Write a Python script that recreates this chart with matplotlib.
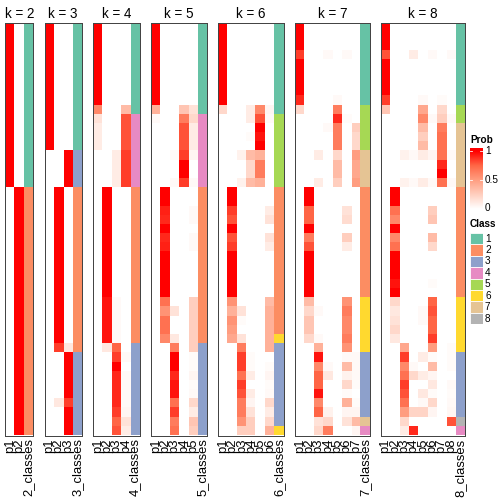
import numpy as np
import matplotlib
matplotlib.use("Agg")
from matplotlib import pyplot as plt
from matplotlib.colors import LinearSegmentedColormap, ListedColormap

plt.rcParams['font.family'] = ['Liberation Sans', 'DejaVu Sans']

# ---- data: membership probabilities per k (45 samples, same order in every panel)
k2_p1 = [1,1,1,1,1,1,1,1,1,1,1,1,1,1,1, 1,1,1,0,0,0,0,0,0,0,0,0,0,0,0, 0,0,0,0,0,0,0,0,0,0,0,0,0,0,0]
k2_p2 = [0,0,0,0,0,0,0,0,0,0,0,0,0,0,0, 0,0,0,1,1,1,1,1,1,1,1,1,1,1,1, 1,1,1,1,1,1,1,1,1,1,1,1,1,1,1]
k2_cls = [1,1,1,1,1,1,1,1,1,1,1,1,1,1,1, 1,1,1,2,2,2,2,2,2,2,2,2,2,2,2, 2,2,2,2,2,2,2,2,2,2,2,2,2,2,2]

k3_p1 = [1,1,1,1,1,1,1,1,1,1,1,1,1,1,0, 0,0,0,0,0,0,0,0,0,0,0,0,0,0,0, 0,0,0,0,0,0,0,0,0,0,0,0,0,0,0]
k3_p2 = [0,0,0,0,0,0,0,0,0,0,0,0,0,0,0, 0,0,0,1,1,1,1,1,1,1,1,1,1,1,1, 1,1,1,1,1,.85,0,0,0,0,0,.12,0,0,0]
k3_p3 = [0,0,0,0,0,0,0,0,0,0,0,0,0,0,1, 1,1,1,0,0,0,0,0,0,0,0,0,0,0,0, 0,0,0,0,0,.12,1,1,1,1,1,.85,1,1,1]
k3_cls = [1,1,1,1,1,1,1,1,1,1,1,1,1,1,3, 3,3,3,2,2,2,2,2,2,2,2,2,2,2,2, 2,2,2,2,2,2,3,3,3,3,3,3,3,3,3]

k4_p1 = [1,1,1,1,1,1,1,1,1,.6,.15,.1,.1,.1,0, 0,0,0,0,0,0,0,0,0,0,0,0,0,0,0, 0,0,0,0,0,0,0,0,0,0,0,0,0,0,0]
k4_p2 = [0,0,0,0,0,0,0,0,0,0,0,0,0,0,0, 0,0,0,1,1,1,1,1,1,1,1,1,1,1,1, .95,.95,.95,.95,.95,.12,0,0,0,0,0,0,0,0,0]
k4_p3 = [0,0,0,0,0,0,0,0,0,0,0,0,0,0,.1, .1,.1,.1,0,0,0,0,0,0,0,0,0,0,0,0, .03,.03,.03,.03,.03,.75,.85,1,.9,.9,.9,.9,.85,.75,.8]
k4_p4 = [0,0,0,0,0,0,0,0,0,.35,.8,.8,.8,.8,.85, .85,.85,.85,0,0,0,0,0,0,0,0,0,0,0,0, 0,0,0,0,0,0,.03,0,.03,.03,.03,.03,.05,.15,.1]
k4_cls = [1,1,1,1,1,1,1,1,1,1,4,4,4,4,4, 4,4,4,2,2,2,2,2,2,2,2,2,2,2,2, 2,2,2,2,2,3,3,3,3,3,3,3,3,3,3]

k5_p1 = [1,1,1,1,1,1,1,1,1,.4,.03,0,0,0,0, 0,0,0,0,0,0,0,0,0,0,0,0,0,0,0, 0,0,0,0,0,0,0,0,0,0,0,0,0,0,0]
k5_p2 = [0,0,0,0,0,0,0,0,0,0,0,0,0,0,0, 0,0,0,1,1,.92,.9,1,.9,.92,1,1,1,1,1, .7,.55,.7,.7,.6,0,0,0,0,0,0,0,0,0,0]
k5_p3 = [0,0,0,0,0,0,0,0,0,0,0,0,0,0,.03, 0,0,.03,0,0,0,0,0,0,0,0,0,0,0,0, 0,.15,0,0,.12,.65,1,1,.9,.95,.95,.7,.85,.65,.7]
k5_p4 = [0,0,0,0,0,0,0,0,0,.3,.65,.8,.8,.8,.85, 1,1,.85,0,0,0,0,0,0,0,0,0,0,0,0, 0,0,0,0,0,0,0,0,0,0,0,0,0,0,0]
k5_p5 = [0,0,0,0,0,0,0,0,0,.15,.2,.1,.1,.1,.05, 0,0,.03,0,0,.03,.03,0,.03,.03,0,0,0,0,0, .25,.25,.25,.25,.25,.25,.02,.02,.05,.02,.03,.2,.1,.3,.25]
k5_cls = [1,1,1,1,1,1,1,1,1,1,4,4,4,4,4, 4,4,4,2,2,2,2,2,2,2,2,2,2,2,2, 2,2,2,2,2,3,3,3,3,3,3,3,3,3,3]

k6_p1 = [1,1,1,1,1,1,1,1,1,.2,0,0,0,0,0, 0,0,0,0,0,0,0,0,0,0,0,0,0,0,0, 0,0,0,0,0,0,0,0,0,0,0,0,0,0,0]
k6_p2 = [0,0,0,0,0,0,0,0,0,0,0,0,0,0,0, 0,0,0,1,1,.85,.8,1,.8,.85,1,1,1,1,1, .55,.4,.55,.5,.45,0,0,0,0,0,0,0,0,0,0]
k6_p3 = [0,0,0,0,0,0,0,0,0,0,0,0,0,0,.07, 0,0,.07,0,0,0,0,0,0,0,0,0,0,0,0, 0,.15,.02,0,.15,.65,.85,.85,.7,.85,.8,.65,.65,.55,.25]
k6_p4 = [0,0,0,0,0,0,0,0,0,.1,.1,0,.02,0,.35, .2,.2,.35,0,0,0,0,0,0,0,0,0,0,0,0, 0,0,0,0,0,0,.02,.02,.1,0,.1,.05,.15,.25,.25]
k6_p5 = [0,0,0,0,0,0,0,0,0,.6,.8,1,.95,1,.4, .65,.65,.4,0,0,0,0,0,0,0,0,0,0,0,0, 0,0,0,0,0,0,0,0,0,0,0,0,0,0,0]
k6_p6 = [0,0,0,0,0,0,0,0,0,.05,.03,0,0,0,0, 0,0,0,0,0,.1,.15,0,.15,.1,0,0,0,0,0, .35,.4,.4,.4,.4,.4,0,.02,.05,.02,.03,.2,.1,.2,.4]
k6_cls = [1,1,1,1,1,1,1,1,1,1,5,5,5,5,5, 5,5,5,2,2,2,2,2,2,2,2,2,2,2,2, 2,2,2,2,6,3,3,3,3,3,3,3,3,3,6]

k7_p1 = [1,1,1,.85,1,1,1,1,.9,.2,0,0,0,0,0, 0,0,0,0,0,0,0,0,0,0,0,0,0,0,0, 0,0,0,0,0,0,0,0,0,0,0,0,0,0,0]
k7_p2 = [0,0,0,0,0,0,0,0,0,0,0,0,0,0,0, 0,0,0,1,1,.75,.75,1,.65,.8,1,1,1,1,1, .35,.2,.3,.3,.2,0,0,0,0,0,0,0,0,0,0]
k7_p3 = [0,0,0,0,0,0,0,0,0,0,0,0,0,0,.1, 0,0,.1,0,0,0,0,0,0,0,0,0,0,0,0, 0,.03,0,0,.03,.4,.95,.6,.75,.75,.95,.6,.75,.15,.2]
k7_p4 = [0,0,0,.03,0,0,0,0,0,0,0,.03,0,0,0, 0,0,0,0,0,0,0,0,0,0,0,0,0,0,0, 0,0,0,0,0,0,0,.03,.12,0,0,0,.07,.2,.65]
k7_p5 = [0,0,0,0,0,0,0,0,.03,.65,.9,.65,.65,.65,.2, .35,.35,.25,0,0,0,0,0,0,0,0,0,0,0,0, 0,0,0,0,0,0,0,0,0,0,0,0,0,0,0]
k7_p6 = [0,0,0,.03,0,0,0,0,0,0,.02,0,0,0,0, 0,0,0,0,0,.15,.18,0,.25,.1,0,0,0,0,0, .55,.65,.6,.6,.65,.55,.03,.35,.07,.2,.02,.4,.05,.15,0]
k7_p7 = [0,0,0,0,0,0,0,0,0,0,0,.25,.2,.2,.5, .45,.45,.5,0,0,0,0,0,0,0,0,0,0,0,0, 0,0,0,0,0,0,.03,.03,.03,.02,0,.02,.05,.35,.05]
k7_cls = [1,1,1,1,1,1,1,1,1,5,5,5,5,5,7, 7,7,7,2,2,2,2,2,2,2,2,2,2,2,2, 6,6,6,6,6,6,3,3,3,3,3,3,3,7,4]

k8_p1 = [1,1,1,.8,1,1,1,1,.85,.3,0,0,0,0,0, 0,0,0,0,0,0,0,0,0,0,0,0,0,0,0, 0,0,0,0,0,0,0,0,0,0,0,0,0,0,0]
k8_p2 = [0,0,0,0,0,0,0,0,0,0,0,0,0,0,0, 0,0,0,1,1,.7,.6,1,.6,.7,1,1,1,.95,1, .2,.12,.15,.2,.12,0,0,0,0,0,0,0,0,0,0]
k8_p3 = [0,0,0,0,0,0,0,0,0,0,0,0,0,0,.07, 0,0,.07,0,0,0,0,0,0,0,0,0,0,0,0, 0,0,0,0,0,.45,.85,.6,.7,.85,.8,.7,.5,.2,.1]
k8_p4 = [0,0,0,.1,0,0,0,0,0,0,0,0,0,0,.03, 0,0,.03,0,0,0,0,0,0,0,0,0,0,0,0, 0,0,0,0,0,0,0,.03,.2,0,0,0,.22,0,.9]
k8_p5 = [0,0,0,0,0,0,0,0,.03,.45,.6,.35,.25,.35,.1, 0,0,.1,0,0,0,0,0,0,0,0,0,0,0,0, 0,.03,.03,0,0,0,.1,0,.1,0,.12,.03,.22,0,0]
k8_p6 = [0,0,0,.03,0,0,0,0,0,0,.03,0,0,0,.05, 0,0,.03,0,0,.25,.3,0,.35,.2,0,0,0,.02,0, .75,.8,.75,.75,.85,.5,.02,.35,.05,.12,.02,.2,.05,0,0]
k8_p7 = [0,0,0,0,0,0,0,0,.02,.2,.25,.65,.7,.7,.7, .9,1,.7,0,0,0,0,0,0,0,0,0,0,0,0, 0,0,0,0,0,0,0,0,0,0,0,0,0,0,0]
k8_p8 = [0,0,0,.03,0,0,0,0,0,0,.03,0,0,0,.03, 0,0,.03,0,0,0,0,0,0,0,0,0,0,0,0, 0,0,0,0,0,.02,.02,.02,0,.03,.02,.03,.04,.8,0]
k8_cls = [1,1,1,1,1,1,1,1,1,5,5,7,7,7,7, 7,7,7,2,2,2,2,2,2,2,2,2,2,2,2, 6,6,6,6,6,6,3,3,3,3,3,3,3,8,4]

ks = [2, 3, 4, 5, 6, 7, 8]
probs = {
    2: [k2_p1, k2_p2],
    3: [k3_p1, k3_p2, k3_p3],
    4: [k4_p1, k4_p2, k4_p3, k4_p4],
    5: [k5_p1, k5_p2, k5_p3, k5_p4, k5_p5],
    6: [k6_p1, k6_p2, k6_p3, k6_p4, k6_p5, k6_p6],
    7: [k7_p1, k7_p2, k7_p3, k7_p4, k7_p5, k7_p6, k7_p7],
    8: [k8_p1, k8_p2, k8_p3, k8_p4, k8_p5, k8_p6, k8_p7, k8_p8],
}
classes = {2: k2_cls, 3: k3_cls, 4: k4_cls, 5: k5_cls, 6: k6_cls, 7: k7_cls, 8: k8_cls}
class_labels = ["1", "2", "3", "4", "5", "6", "7", "8"]
class_colors = ["#66C2A5", "#FC8D62", "#8DA0CB", "#E78AC3", "#A6D854", "#FFD92F", "#E5C494", "#B3B3B3"]

# white -> red ramp (LAB-like)
prob_cmap = LinearSegmentedColormap.from_list(
    "prob", [(0, "#FFFFFF"), (0.25, "#FFCFBF"), (0.5, "#FF9E81"), (0.75, "#FF6746"), (1, "#FF0000")])
class_cmap = ListedColormap(class_colors)

W = H = 504
fig = plt.figure(figsize=(7, 7), dpi=72)


def px_axes(x0, y0, x1, y1):
    return fig.add_axes([x0 / W, 1 - y1 / H, (x1 - x0) / W, (y1 - y0) / H])


top, bottom = 23.3, 435.5
cell_w = 9.33
gap = 11.3
x = 5.3
n = len(k2_cls)
for k in ks:
    ncol = k + 1
    ax = px_axes(x, top, x + ncol * cell_w, bottom)
    x += ncol * cell_w + gap
    mat = np.array(probs[k]).T
    ax.imshow(mat, cmap=prob_cmap, vmin=0, vmax=1, aspect="auto",
              interpolation="nearest", extent=(0, k, n, 0))
    cls = np.array(classes[k]).reshape(-1, 1) - 1
    ax.imshow(cls, cmap=class_cmap, vmin=-0.5, vmax=7.5, aspect="auto",
              interpolation="nearest", extent=(k, k + 1, n, 0))
    ax.set_xlim(0, k + 1)
    ax.set_ylim(n, 0)
    ax.set_yticks([])
    ax.set_xticks(np.arange(ncol) + 0.5)
    ax.set_xticklabels(["p%d" % (i + 1) for i in range(k)] + ["%d_classes" % k],
                       rotation=90, fontsize=13)
    ax.tick_params(axis="x", length=0, pad=3)
    for s in ax.spines.values():
        s.set_color("#444444")
        s.set_linewidth(1)
    ax.set_title("k = %d" % k, fontsize=13.5, pad=5)

# ---- legends
fig.text(470 / W, 1 - 140 / H, "Prob", fontsize=10, fontweight="bold", va="center", ha="left")
cax = px_axes(470, 148.3, 482.5, 211.7)
grad = np.linspace(1.05, -0.05, 200).reshape(-1, 1)
cax.imshow(np.clip(grad, 0, 1), cmap=prob_cmap, vmin=0, vmax=1, aspect="auto",
           extent=(0, 1, -0.05, 1.05), interpolation="bilinear")
cax.set_xlim(0, 1)
cax.set_ylim(-0.05, 1.05)
cax.axis("off")
for v in [0, 0.5, 1]:
    cax.plot([0, 0.18], [v, v], color="white", lw=0.8)
    cax.plot([0.82, 1], [v, v], color="white", lw=0.8)
    fig.text(485 / W, 1 - (208 - v * 56.5) / H, "%g" % v, fontsize=10, va="center", ha="left")

fig.text(470 / W, 1 - 224 / H, "Class", fontsize=10, fontweight="bold", va="center", ha="left")
lax = px_axes(470, 233, 482.5, 233 + 11.4 * len(class_labels))
for i, (lab, col) in enumerate(zip(class_labels, class_colors)):
    lax.add_patch(plt.Rectangle((0, i), 1, 1, facecolor=col, edgecolor="white", lw=0.8))
    fig.text(485 / W, 1 - (233 + 11.4 * (i + 0.5)) / H, lab, fontsize=10, va="center", ha="left")
lax.set_xlim(0, 1)
lax.set_ylim(len(class_labels), 0)
lax.axis("off")

fig.savefig("out.png", dpi=72)
